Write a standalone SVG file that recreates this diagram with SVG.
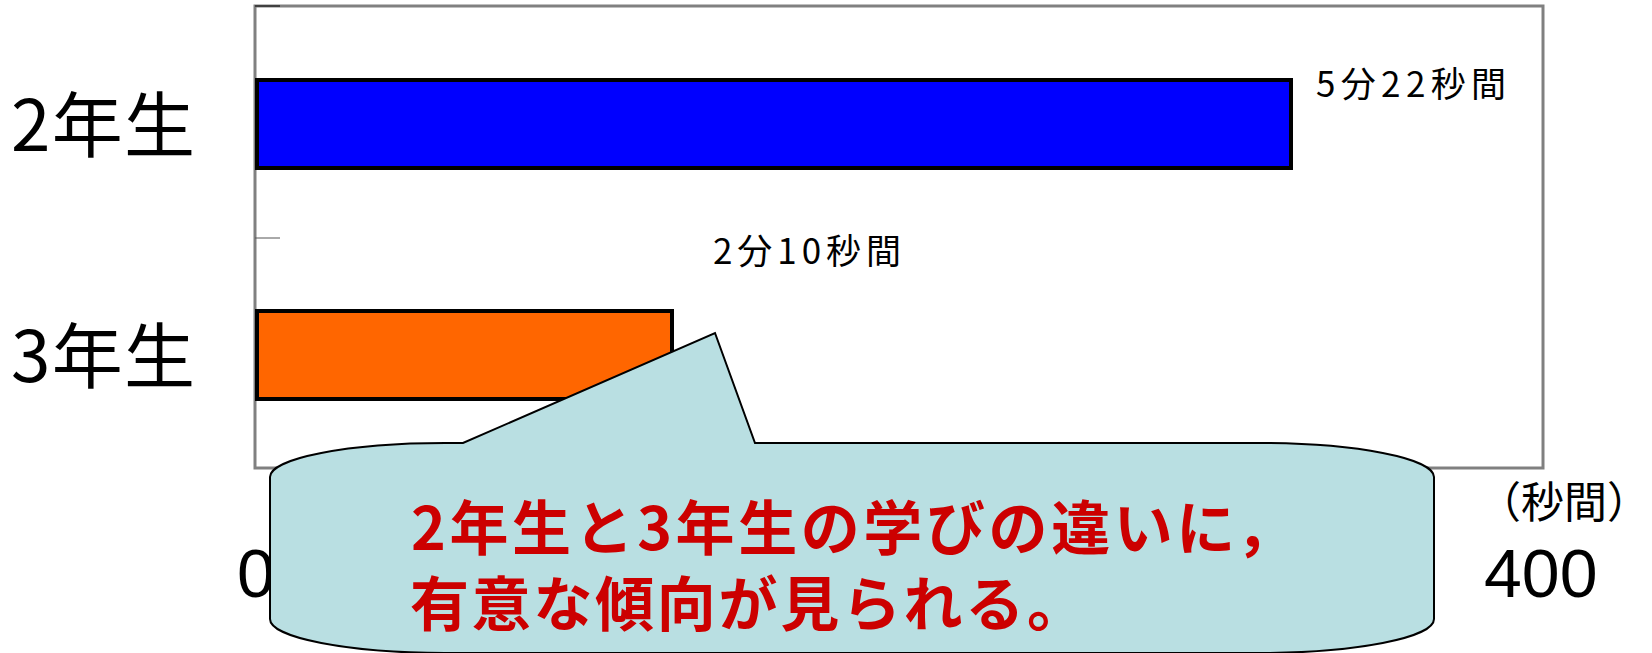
<svg xmlns="http://www.w3.org/2000/svg" width="1652" height="653" viewBox="0 0 1652 653">
<style>
.jp{font-family:"Noto Sans CJK JP","Noto Sans CJK SC",sans-serif;fill:#000}
.num{font-family:"Liberation Sans",Arial,sans-serif;fill:#000}
.bar{stroke:#000;stroke-width:4}
.red{font-family:"Noto Sans CJK JP","Noto Sans CJK SC",sans-serif;fill:#CC0000;font-size:59px;font-weight:700}
</style>
<rect width="1652" height="653" fill="#fff"/>
<g id="plot-frame">
<rect x="255" y="6" width="1288" height="462" fill="#fff" stroke="#808080" stroke-width="3"/>
<line x1="255" y1="6" x2="280" y2="6" stroke="#000" stroke-width="1"/>
<line x1="255" y1="238" x2="280" y2="238" stroke="#555" stroke-width="1"/>
</g>
<g id="bar-2nen">
<rect class="bar" x="257" y="80" width="1034" height="88" fill="#0000FF"/>
<text class="jp" x="1316" y="97" font-size="35" textLength="190" lengthAdjust="spacing">5分22秒間</text>
</g>
<g id="bar-3nen">
<rect class="bar" x="257" y="311" width="415" height="88" fill="#FF6600"/>
<text class="jp" x="713" y="264" font-size="35" textLength="188" lengthAdjust="spacing">2分10秒間</text>
</g>
<g id="y-labels">
<text class="jp" x="11" y="151" font-size="71" textLength="184" lengthAdjust="spacing">2年生</text>
<text class="jp" x="11" y="382" font-size="71" textLength="184" lengthAdjust="spacing">3年生</text>
</g>
<g id="x-axis">
<text class="num" x="237" y="597" font-size="68">0</text>
<text class="num" x="1484" y="597" font-size="68">400</text>
<text class="jp" x="1478" y="518" font-size="43">（秒間）</text>
</g>
<g id="callout">
<path d="M270,477 A175,34 0 0 1 445,443 L463,443 L715,333 L755,443 L1259,443 A175,34 0 0 1 1434,477 L1434,619 A175,34 0 0 1 1259,653 L445,653 A175,34 0 0 1 270,619 Z" fill="#B9DFE2" stroke="#000" stroke-width="2"/>
<text class="red" x="411" y="550" textLength="884" lengthAdjust="spacing">2年生と3年生の学びの違いに，</text>
<text class="red" x="410" y="626" textLength="676" lengthAdjust="spacing">有意な傾向が見られる。</text>
</g>
</svg>
